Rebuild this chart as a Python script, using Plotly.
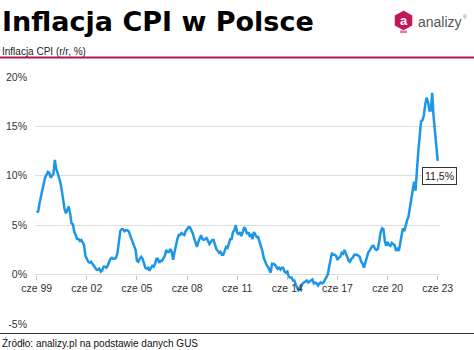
import pandas as pd
import plotly.graph_objects as go

# Monthly CPI inflation in Poland, y/y %, June 1999 - June 2023
cpi_1999 = [6.5, 6.3, 7.2, 8.0, 8.7, 9.2, 9.8]
cpi_2000 = [10.1, 10.4, 10.3, 9.8, 10.0, 10.2, 11.6, 10.7, 10.3, 9.9, 9.3, 8.5]
cpi_2001 = [7.4, 6.6, 6.2, 6.6, 6.9, 6.2, 5.2, 5.1, 4.3, 4.0, 3.6, 3.6]
cpi_2002 = [3.4, 3.5, 3.3, 3.0, 1.9, 1.6, 1.3, 1.2, 1.3, 1.1, 0.9, 0.8]
cpi_2003 = [0.5, 0.5, 0.6, 0.3, 0.4, 0.8, 0.8, 0.7, 0.9, 1.3, 1.6, 1.7]
cpi_2004 = [1.6, 1.6, 1.7, 2.2, 3.4, 4.4, 4.6, 4.6, 4.4, 4.5, 4.5, 4.4]
cpi_2005 = [4.0, 3.6, 3.4, 3.0, 2.5, 1.4, 1.3, 1.6, 1.8, 1.6, 1.0, 0.7]
cpi_2006 = [0.6, 0.7, 0.4, 0.7, 0.9, 0.8, 1.1, 1.6, 1.6, 1.2, 1.4, 1.4]
cpi_2007 = [1.6, 1.9, 2.5, 2.3, 2.3, 2.6, 2.3, 1.5, 2.3, 3.0, 3.6, 4.0]
cpi_2008 = [4.0, 4.2, 4.1, 4.0, 4.4, 4.6, 4.8, 4.8, 4.5, 4.2, 3.7, 3.3]
cpi_2009 = [2.8, 3.3, 3.6, 4.0, 3.6, 3.5, 3.6, 3.7, 3.4, 3.1, 3.3, 3.5]
cpi_2010 = [3.5, 2.9, 2.6, 2.4, 2.2, 2.3, 2.0, 2.0, 2.5, 2.8, 2.7, 3.1]
cpi_2011 = [3.6, 3.6, 4.3, 4.5, 5.0, 4.2, 4.1, 4.3, 3.9, 4.3, 4.8, 4.6]
cpi_2012 = [4.1, 4.3, 3.9, 4.0, 3.6, 4.3, 4.0, 3.8, 3.8, 3.4, 2.8, 2.4]
cpi_2013 = [1.7, 1.3, 1.0, 0.8, 0.5, 0.2, 1.1, 1.1, 1.0, 0.8, 0.6, 0.7]
cpi_2014 = [0.5, 0.7, 0.7, 0.3, 0.2, 0.3, -0.2, -0.3, -0.3, -0.6, -0.6, -1.0]
cpi_2015 = [-1.4, -1.6, -1.5, -1.1, -0.9, -0.8, -0.7, -0.6, -0.8, -0.7, -0.6, -0.5]
cpi_2016 = [-0.9, -0.8, -0.9, -1.1, -0.9, -0.8, -0.9, -0.8, -0.5, -0.2, 0.0, 0.8]
cpi_2017 = [1.7, 2.2, 2.0, 2.0, 1.9, 1.5, 1.7, 1.8, 2.2, 2.1, 2.5, 2.1]
cpi_2018 = [1.9, 1.4, 1.3, 1.6, 1.7, 2.0, 2.0, 2.0, 1.9, 1.8, 1.3, 1.1]
cpi_2019 = [0.7, 1.2, 1.7, 2.2, 2.4, 2.6, 2.9, 2.9, 2.6, 2.5, 2.6, 3.4]
cpi_2020 = [4.3, 4.7, 4.6, 3.4, 2.9, 3.3, 3.0, 2.9, 3.2, 3.1, 3.0, 2.4]
cpi_2021 = [2.6, 2.4, 3.2, 4.3, 4.7, 4.4, 5.0, 5.5, 5.9, 6.8, 7.8, 8.6]
cpi_2022 = [9.4, 8.5, 11.0, 12.4, 13.9, 15.5, 15.6, 16.1, 17.2, 17.9, 17.5, 16.6]
cpi_2023 = [16.6, 18.4, 16.1, 14.7, 13.0, 11.5]

cpi = (cpi_1999 + cpi_2000 + cpi_2001 + cpi_2002 + cpi_2003 + cpi_2004
       + cpi_2005 + cpi_2006 + cpi_2007 + cpi_2008 + cpi_2009 + cpi_2010
       + cpi_2011 + cpi_2012 + cpi_2013 + cpi_2014 + cpi_2015 + cpi_2016
       + cpi_2017 + cpi_2018 + cpi_2019 + cpi_2020 + cpi_2021 + cpi_2022
       + cpi_2023)
months = pd.date_range("1999-06-01", periods=len(cpi), freq="MS")

tick_dates = ["1999-06-01", "2002-06-01", "2005-06-01", "2008-06-01",
              "2011-06-01", "2014-06-01", "2017-06-01", "2020-06-01",
              "2023-06-01"]
tick_labels = ["cze 99", "cze 02", "cze 05", "cze 08", "cze 11",
               "cze 14", "cze 17", "cze 20", "cze 23"]
y_ticks = [-5, 0, 5, 10, 15, 20]
y_labels = ["-5%", "0%", "5%", "10%", "15%", "20%"]

last_label = f"{cpi[-1]:.1f}".replace(".", ",") + "%"

W, H = 474, 350
ML, MR, MT, MB = 35, 34, 76, 25
PW, PH = W - ML - MR, H - MT - MB


def px(x):
    return (x - ML) / PW


def py(y):
    return (H - MB - y) / PH


BASE = "Liberation Sans, Arial, sans-serif"
MAGENTA = "#b3175a"
Y_LO, Y_HI = -5.1, 20.1

fig = go.Figure()
fig.add_trace(go.Scatter(
    x=months, y=cpi, mode="lines",
    line=dict(color="#1c97e8", width=2.5),
    hoverinfo="skip", showlegend=False,
))

fig.update_layout(
    width=W, height=H, autosize=False,
    margin=dict(l=ML, r=MR, t=MT, b=MB, pad=0),
    paper_bgcolor="white", plot_bgcolor="white",
    font=dict(family=BASE, size=10.5, color="#333333"),
    xaxis=dict(
        range=["1999-04-25", "2023-07-21"],
        tickvals=tick_dates, ticktext=tick_labels,
        anchor="free", position=(0 - Y_LO) / (Y_HI - Y_LO),
        automargin=False,
        showgrid=False, zeroline=False, showline=False,
        ticks="outside", ticklen=4, tickcolor="#c0c0c0",
        tickfont=dict(size=10.5, color="#333333"),
    ),
    yaxis=dict(
        range=[Y_LO, Y_HI], tickvals=y_ticks, ticktext=y_labels,
        automargin=False,
        showgrid=True, gridcolor="#dedede", gridwidth=1,
        zeroline=False, showline=False,
        ticklabelstandoff=7,
        tickfont=dict(size=10.5, color="#333333"),
    ),
)

shapes = [
    # magenta rule under the header
    dict(type="line", xref="paper", yref="paper",
         x0=px(0), x1=px(W), y0=py(57.5), y1=py(57.5),
         line=dict(color=MAGENTA, width=2)),
    # footer rule
    dict(type="line", xref="paper", yref="paper",
         x0=px(0), x1=px(W), y0=py(333.5), y1=py(333.5),
         line=dict(color="#333333", width=1.2)),
    # logo: hexagon badge with a small base
    dict(type="path", xref="paper", yref="paper",
         path="M {} {} L {} {} L {} {} L {} {} L {} {} L {} {} Z".format(
             px(403.5), py(11.5), px(411.5), py(16), px(411.5), py(25),
             px(403.5), py(29.5), px(395.5), py(25), px(395.5), py(16)),
         fillcolor="#c2185b", line=dict(color="#c2185b", width=1.5)),
    dict(type="rect", xref="paper", yref="paper",
         x0=px(400), x1=px(407), y0=py(33), y1=py(30.5),
         fillcolor="#e07aa5", line=dict(width=0)),
]

annotations = [
    dict(text="<b>Inflacja CPI w Polsce</b>", xref="paper", yref="paper",
         x=px(0), y=py(21.5), xanchor="left", yanchor="middle",
         showarrow=False,
         font=dict(family="DejaVu Sans, sans-serif", size=27,
                   color="#000000")),
    dict(text="Inflacja CPI (r/r, %)", xref="paper", yref="paper",
         x=px(0), y=py(51.5), xanchor="left", yanchor="middle",
         showarrow=False, font=dict(size=10, color="#222222")),
    dict(text="<b>a</b>", xref="paper", yref="paper",
         x=px(403.5), y=py(20), xanchor="center", yanchor="middle",
         showarrow=False, font=dict(size=13, color="white")),
    dict(text="analizy", xref="paper", yref="paper",
         x=px(415.5), y=py(22), xanchor="left", yanchor="middle",
         showarrow=False, font=dict(size=14, color="#555555")),
    dict(text="®", xref="paper", yref="paper",
         x=px(461), y=py(17), xanchor="left", yanchor="middle",
         showarrow=False, font=dict(size=5, color="#777777")),
    dict(text="Źródło: analizy.pl na podstawie danych GUS",
         xref="paper", yref="paper",
         x=px(0), y=py(343), xanchor="left", yanchor="middle",
         showarrow=False, font=dict(size=10, color="#111111")),
    dict(text=last_label, x=months[-1], y=cpi[-1], xref="x", yref="y",
         xanchor="center", yanchor="top", xshift=2, yshift=-6,
         showarrow=False, bgcolor="white", bordercolor="#333333",
         borderwidth=1, borderpad=2,
         font=dict(size=10.5, color="#222222")),
]

fig.update_layout(shapes=shapes, annotations=annotations)
fig.write_html("out.html")
